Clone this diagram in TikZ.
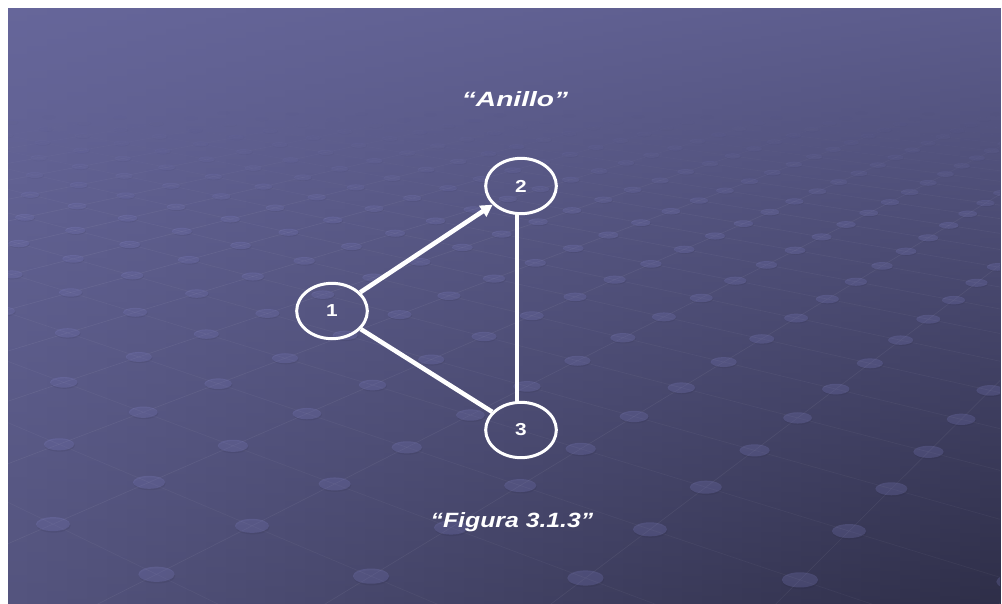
\documentclass[tikz,border=0pt]{standalone}
\usepackage{fontspec}
\setmainfont{Liberation Sans}
\usetikzlibrary{shapes.geometric,arrows.meta}
\definecolor{cTL}{RGB}{102,102,154}
\definecolor{cTR}{RGB}{92,92,140}
\definecolor{cBL}{RGB}{84,84,126}
\definecolor{cBR}{RGB}{46,46,72}
\definecolor{cDot}{RGB}{140,140,215}
\definecolor{cRim}{RGB}{30,30,55}
\newcommand\gridpt[4]{%
  \pgfmathsetmacro\gw{1+0.0722*(#1)}%
  \pgfmathsetmacro#3{101+(-48+99.5*(#2))/\gw}%
  \pgfmathsetmacro#4{-105+633/\gw+0.0087*(#3-500)}%
}
\tikzset{
  vtx/.style={ellipse, draw=white, line width=2.25pt, minimum width=53pt,
    minimum height=41.5pt, inner sep=0pt, text=white,
    font=\bfseries\fontsize{13pt}{13pt}\selectfont},
  edgeline/.style={draw=white, line width=3.4pt},
  ttl/.style={text=white, inner sep=0pt, anchor=base,
    font=\bfseries\itshape\fontsize{15.5pt}{15.5pt}\selectfont},
}
\begin{document}
\begin{tikzpicture}[x=0.75pt,y=-0.75pt]
\useasboundingbox (0,0) rectangle (1002,603);
\fill[white] (0,0) rectangle (1002,603);
% background gradient in strips
\foreach \k in {0,...,49}{
  \pgfmathsetmacro\xa{8+19.84*\k}
  \pgfmathsetmacro\xb{8+19.84*(\k+1)+0.8}
  \pgfmathsetmacro\pct{100-2*(\k+0.5)}
  \shade[top color=cTL!\pct!cTR, bottom color=cBL!\pct!cBR] (\xa,8) rectangle (\xb,603);
}
% perspective grid of dots
\begin{scope}
\clip (8,8) rectangle (1000,603);
\foreach \d in {-2,...,32}{
  \pgfmathsetmacro\ww{1+0.0722*\d}
  \pgfmathsetmacro\jmin{int(floor((((-30-101)*\ww+48)/99.5-\d)/2))}
  \pgfmathsetmacro\jmax{int(ceil((((1040-101)*\ww+48)/99.5-\d)/2))}
  \foreach \j in {\jmin,...,\jmax}{
    \pgfmathsetmacro\s{int(2*\j+\d)}
    \gridpt{\d+1}{\s+1}{\qx}{\qy}
    \gridpt{\d-1}{\s+1}{\rx}{\ry}
    \gridpt{\d}{\s}{\px}{\py}
    \pgfmathsetmacro\al{max(0,min(1,(\py-110)/110))}
    \pgfmathsetmacro\alq{max(0,min(1,(\qy-110)/110))}
    \pgfmathsetmacro\lo{0.06*\alq}
    \pgfmathsetmacro\lp{0.045*\al}
    \draw[white, draw opacity=\lo, line width=0.5pt] (\px,\py) -- (\qx,\qy);
    \draw[white, draw opacity=\lp, line width=0.5pt] (\px,\py) -- (\rx,\ry);
    \pgfmathsetmacro\ex{0.75*17/(\gw^0.85)}
    \pgfmathsetmacro\ey{0.75*7/(\gw^1.1)}
    \pgfmathsetmacro\dy{1.5/\gw}
    \pgfmathsetmacro\fa{0.10*\al}
    \pgfmathsetmacro\fb{0.22*\al}
    \fill[cRim, fill opacity=\fa] (\px+0.6,\py+\dy) ellipse[x radius=\ex pt, y radius=\ey pt];
    \fill[cDot, fill opacity=\fb] (\px,\py) ellipse[x radius=\ex pt, y radius=\ey pt];
  }
}
\end{scope}
% titles
\node[ttl] (t1) at (515,106) {\scalebox{1.36}[1]{“Anillo”}};
\node[ttl] (t2) at (512,527) {\scalebox{1.2}[1]{“Figura 3.1.3”}};
% graph
\node[vtx] (n1) at (332,311) {\scalebox{1.2}[1]{1}};
\node[vtx] (n2) at (521,186) {\scalebox{1.2}[1]{2}};
\node[vtx] (n3) at (521,430) {\scalebox{1.2}[1]{3}};
\draw[edgeline, -{Triangle[length=9pt,width=9.5pt]}] (n1) -- (n2);
\draw[edgeline] (n1) -- (n3);
\draw[edgeline] ([xshift=-3pt]n2.south) -- ([xshift=-3pt]n3.north);
\end{tikzpicture}
\end{document}
